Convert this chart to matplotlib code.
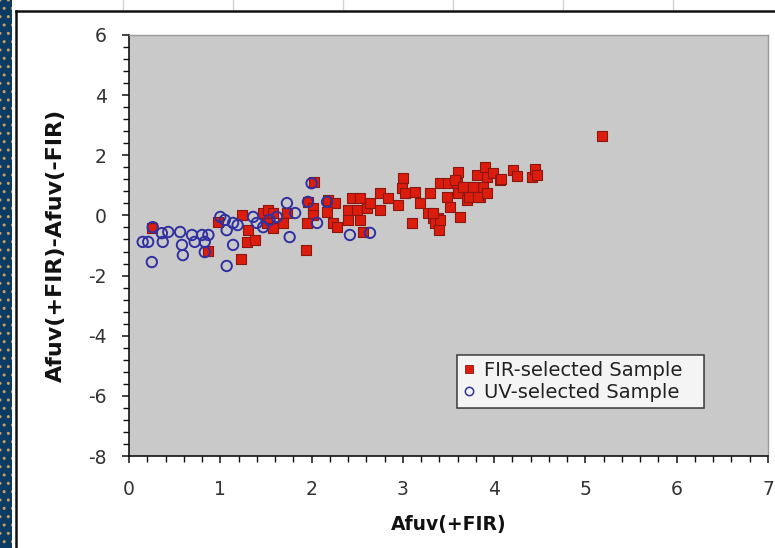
import matplotlib
matplotlib.use("Agg")
import matplotlib.pyplot as plt
from matplotlib.patches import Rectangle
from matplotlib.lines import Line2D
from matplotlib.ticker import MultipleLocator

plt.rcParams["axes.unicode_minus"] = False

# FIR-selected sample: Afuv(+FIR) vs Afuv(+FIR)-Afuv(-FIR)
fir_x = [5.18, 0.25, 0.87, 0.97, 1.24, 1.23, 1.29, 1.38, 1.30, 1.47, 1.52, 1.58, 1.51,
         1.58, 1.73, 1.69, 2.03, 1.96, 2.02, 2.02, 1.95, 2.18, 2.26, 2.17, 2.23, 2.28,
         1.94, 2.44, 2.53, 2.40, 2.50, 2.61, 2.40, 2.53, 2.56, 2.64, 2.75, 2.75, 2.84,
         2.95, 3.00, 2.99, 3.02, 3.13, 3.10, 3.19, 3.30, 3.27, 3.33, 3.38, 3.35, 3.40,
         3.41, 3.49, 3.48, 3.52, 3.60, 3.59, 3.60, 3.63, 3.70, 3.70, 3.81, 3.90, 3.92,
         3.88, 3.84, 3.99, 4.06, 4.21, 4.25, 4.42, 4.45, 4.47, 3.57, 3.66, 3.77, 3.73,
         3.82, 3.41, 3.33, 4.07, 3.92]
fir_y = [2.64, -0.42, -1.18, -0.22, 0.01, -1.45, -0.88, -0.82, -0.49, 0.08, 0.18, 0.08,
         -0.25, -0.42, 0.08, -0.25, 1.11, 0.45, 0.25, 0.01, -0.25, 0.51, 0.41, 0.11,
         -0.25, -0.39, -1.15, 0.58, 0.58, 0.18, 0.18, 0.25, -0.15, -0.15, -0.55, 0.41,
         0.74, 0.18, 0.58, 0.35, 1.24, 0.91, 0.74, 0.78, -0.25, 0.41, 0.74, 0.08, -0.09,
         -0.09, -0.25, -0.49, 1.08, 1.08, 0.61, 0.28, 1.44, 1.08, 0.74, -0.05, 0.94,
         0.51, 1.34, 1.61, 1.28, 0.94, 0.61, 1.41, 1.18, 1.51, 1.31, 1.28, 1.54, 1.34,
         1.18, 0.94, 0.94, 0.61, 0.61, -0.15, 0.08, 1.21, 0.74]

# UV-selected sample
uv_x = [0.25, 0.15, 0.21, 0.26, 0.36, 0.43, 0.37, 0.56, 0.58, 0.59, 0.69, 0.72, 0.80,
        0.83, 0.87, 0.83, 1.00, 1.05, 1.07, 1.14, 1.07, 1.14, 1.19, 1.36, 1.40, 1.47,
        1.54, 1.62, 1.73, 1.76, 1.82, 2.00, 1.96, 2.17, 2.06, 2.42, 2.64]
uv_y = [-1.55, -0.88, -0.88, -0.39, -0.59, -0.55, -0.88, -0.55, -0.98, -1.32, -0.65,
        -0.88, -0.65, -0.88, -0.65, -1.22, -0.05, -0.15, -0.49, -0.98, -1.68, -0.25,
        -0.32, -0.05, -0.25, -0.39, -0.15, -0.05, 0.41, -0.72, 0.08, 1.07, 0.45, 0.45,
        -0.25, -0.65, -0.58]

x_ticks = [0, 1, 2, 3, 4, 5, 6, 7]
y_ticks = [6, 4, 2, 0, -2, -4, -6, -8]
x_label = "Afuv(+FIR)"
y_label = "Afuv(+FIR)-Afuv(-FIR)"
series_names = ["FIR-selected Sample", "UV-selected Sample"]

W, H = 775, 548
fig = plt.figure(figsize=(W / 100, H / 100), dpi=100)
fig.patch.set_facecolor("white")


def fx(px):
    return px / W


def fy(py):
    return 1 - py / H


# sheet background: dotted blue strip, cell lines and the chart frame
fig.add_artist(Rectangle((0, 0), fx(12), 1, transform=fig.transFigure,
                         facecolor="#0c3c63", edgecolor="#c8a062", hatch="..",
                         linewidth=0, zorder=0))
for cx in [123, 233, 343, 453, 563, 673]:
    fig.add_artist(Line2D([fx(cx), fx(cx)], [fy(0), fy(11)], transform=fig.transFigure,
                          color="#d4d4d4", linewidth=1, zorder=0))
fig.add_artist(Line2D([fx(15.5), fx(15.5)], [0, fy(11)], transform=fig.transFigure,
                      color="#111111", linewidth=1.8, zorder=1))
fig.add_artist(Line2D([fx(15.5), 1], [fy(11), fy(11)], transform=fig.transFigure,
                      color="#111111", linewidth=1.8, zorder=1))

ax = fig.add_axes([fx(129), fy(456), fx(768) - fx(129), fy(35) - fy(456)])
ax.set_facecolor("#c9c9c9")

ax.scatter(fir_x, fir_y, marker="s", s=52, facecolor="#dc1c0c", edgecolor="#8a1810",
           linewidth=0.8, zorder=3)
ax.scatter(uv_x, uv_y, marker="o", s=56, facecolor="none", edgecolor="#3030a0",
           linewidth=1.4, zorder=4)

ax.set_xlim(0, 7)
ax.set_ylim(-8, 6)
ax.set_xticks(x_ticks)
ax.set_yticks(y_ticks)
ax.xaxis.set_minor_locator(MultipleLocator(0.2))
ax.yaxis.set_minor_locator(MultipleLocator(0.4))

for side in ["top", "right"]:
    ax.spines[side].set_color("#999999")
    ax.spines[side].set_linewidth(1.0)
for side in ["left", "bottom"]:
    ax.spines[side].set_color("#111111")
    ax.spines[side].set_linewidth(1.2)

ax.tick_params(which="major", direction="out", length=5, width=1.1, color="#111111",
               labelsize=13.5, labelcolor="#333333")
ax.tick_params(which="minor", direction="out", length=4, width=1.0, color="#111111")
ax.tick_params(axis="x", which="major", pad=12)
ax.tick_params(axis="y", which="major", pad=11)

ax.set_xlabel(x_label, fontsize=13.5, fontweight="bold", color="#111111", labelpad=12)
ax.set_ylabel(y_label, fontsize=16, fontweight="bold", color="#111111", labelpad=16)

handles = [
    Line2D([], [], linestyle="none", marker="s", markersize=6, markerfacecolor="#dc1c0c",
           markeredgecolor="#8a1810", markeredgewidth=0.6),
    Line2D([], [], linestyle="none", marker="o", markersize=6, markerfacecolor="none",
           markeredgecolor="#3030a0", markeredgewidth=1.1),
]
aw = 768 - 129
ah = 456 - 35
leg = ax.legend(handles, series_names, loc="lower left", mode="expand",
                bbox_to_anchor=((457 - 129) / aw, (456 - 408) / ah,
                                (704 - 457) / aw, (408 - 349) / ah),
                frameon=True, fancybox=False, fontsize=14, handlelength=0.6,
                handletextpad=0.5, borderpad=0.3, labelspacing=0.15, borderaxespad=0)
leg.get_frame().set_edgecolor("#111111")
leg.get_frame().set_linewidth(1.1)
leg.get_frame().set_facecolor("white")
for t in leg.get_texts():
    t.set_color("#222222")

fig.savefig("out.png", dpi=100)
